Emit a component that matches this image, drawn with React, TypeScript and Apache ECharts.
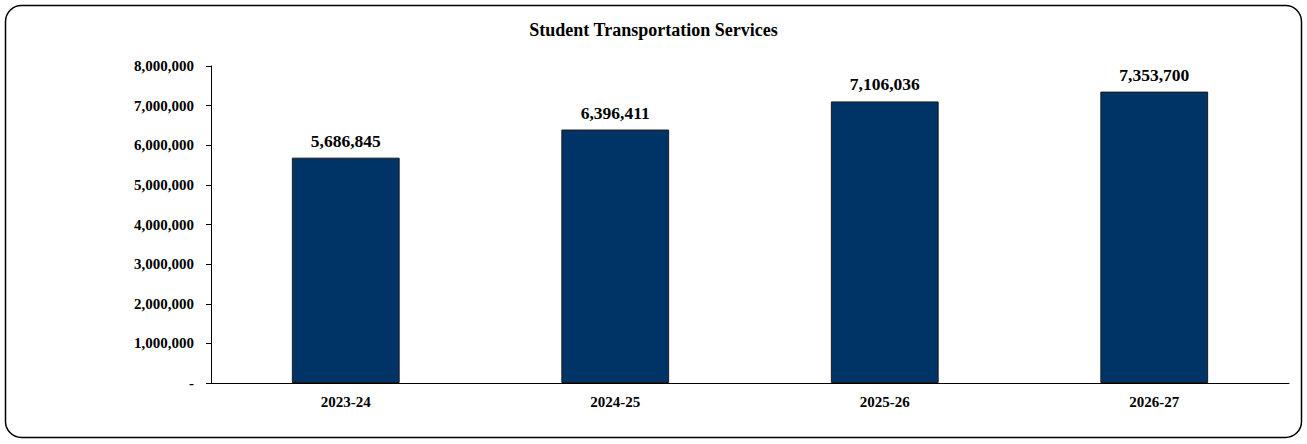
import React, { useEffect, useRef } from "react";
import * as echarts from "echarts";

const categories = ["2023-24", "2024-25", "2025-26", "2026-27"];
const values = [5686845, 6396411, 7106036, 7353700];
const yTicks = [0, 1000000, 2000000, 3000000, 4000000, 5000000, 6000000, 7000000, 8000000];
const title = "Student Transportation Services";

const fmt = (v: number) => (v === 0 ? "-" : v.toLocaleString("en-US"));

export default function App() {
  const ref = useRef<HTMLDivElement>(null);
  useEffect(() => {
    if (!ref.current) return;
    const chart = echarts.init(ref.current, null, { renderer: "svg" });
    const font = "'Liberation Serif', 'Times New Roman', serif";
    chart.setOption({
      animation: false,
      backgroundColor: "#ffffff",
      textStyle: { fontFamily: font },
      title: {
        text: title,
        left: "center",
        top: 16,
        textStyle: { fontFamily: font, fontWeight: "bold", fontSize: 18, color: "#000" },
      },
      graphic: [
        {
          type: "rect",
          shape: { x: 5.5, y: 5.5, width: 1296, height: 432, r: 16 },
          style: { fill: "none", stroke: "#000", lineWidth: 1.5 },
          silent: true,
        },
      ],
      grid: { left: 211, right: 18, top: 66, bottom: 61, containLabel: false },
      xAxis: {
        type: "category",
        data: categories,
        axisLine: { lineStyle: { color: "#000", width: 1 } },
        axisTick: { show: false },
        axisLabel: { fontFamily: font, fontWeight: "bold", fontSize: 15, color: "#000", margin: 11 },
      },
      yAxis: {
        type: "value",
        min: yTicks[0],
        max: yTicks[yTicks.length - 1],
        interval: yTicks[1] - yTicks[0],
        splitLine: { show: false },
        axisLine: { show: true, lineStyle: { color: "#000", width: 1 } },
        axisTick: { show: true, length: 5, lineStyle: { color: "#000" } },
        axisLabel: {
          fontFamily: font,
          fontWeight: "bold",
          fontSize: 15,
          color: "#000",
          margin: 17,
          formatter: (v: number) => fmt(v),
        },
      },
      series: [
        {
          type: "bar",
          data: values,
          barWidth: "40%",
          itemStyle: { color: "#003366", borderColor: "#1a1a1a", borderWidth: 1 },
          label: {
            show: true,
            position: "top",
            distance: 8,
            fontFamily: font,
            fontWeight: "bold",
            fontSize: 17.5,
            color: "#000",
            formatter: (p: any) => fmt(p.value),
          },
        },
      ],
    });
    return () => chart.dispose();
  }, []);
  return (
    <div
      ref={ref}
      style={{ position: "fixed", left: 0, top: 0, width: 1307, height: 444 }}
    />
  );
}
